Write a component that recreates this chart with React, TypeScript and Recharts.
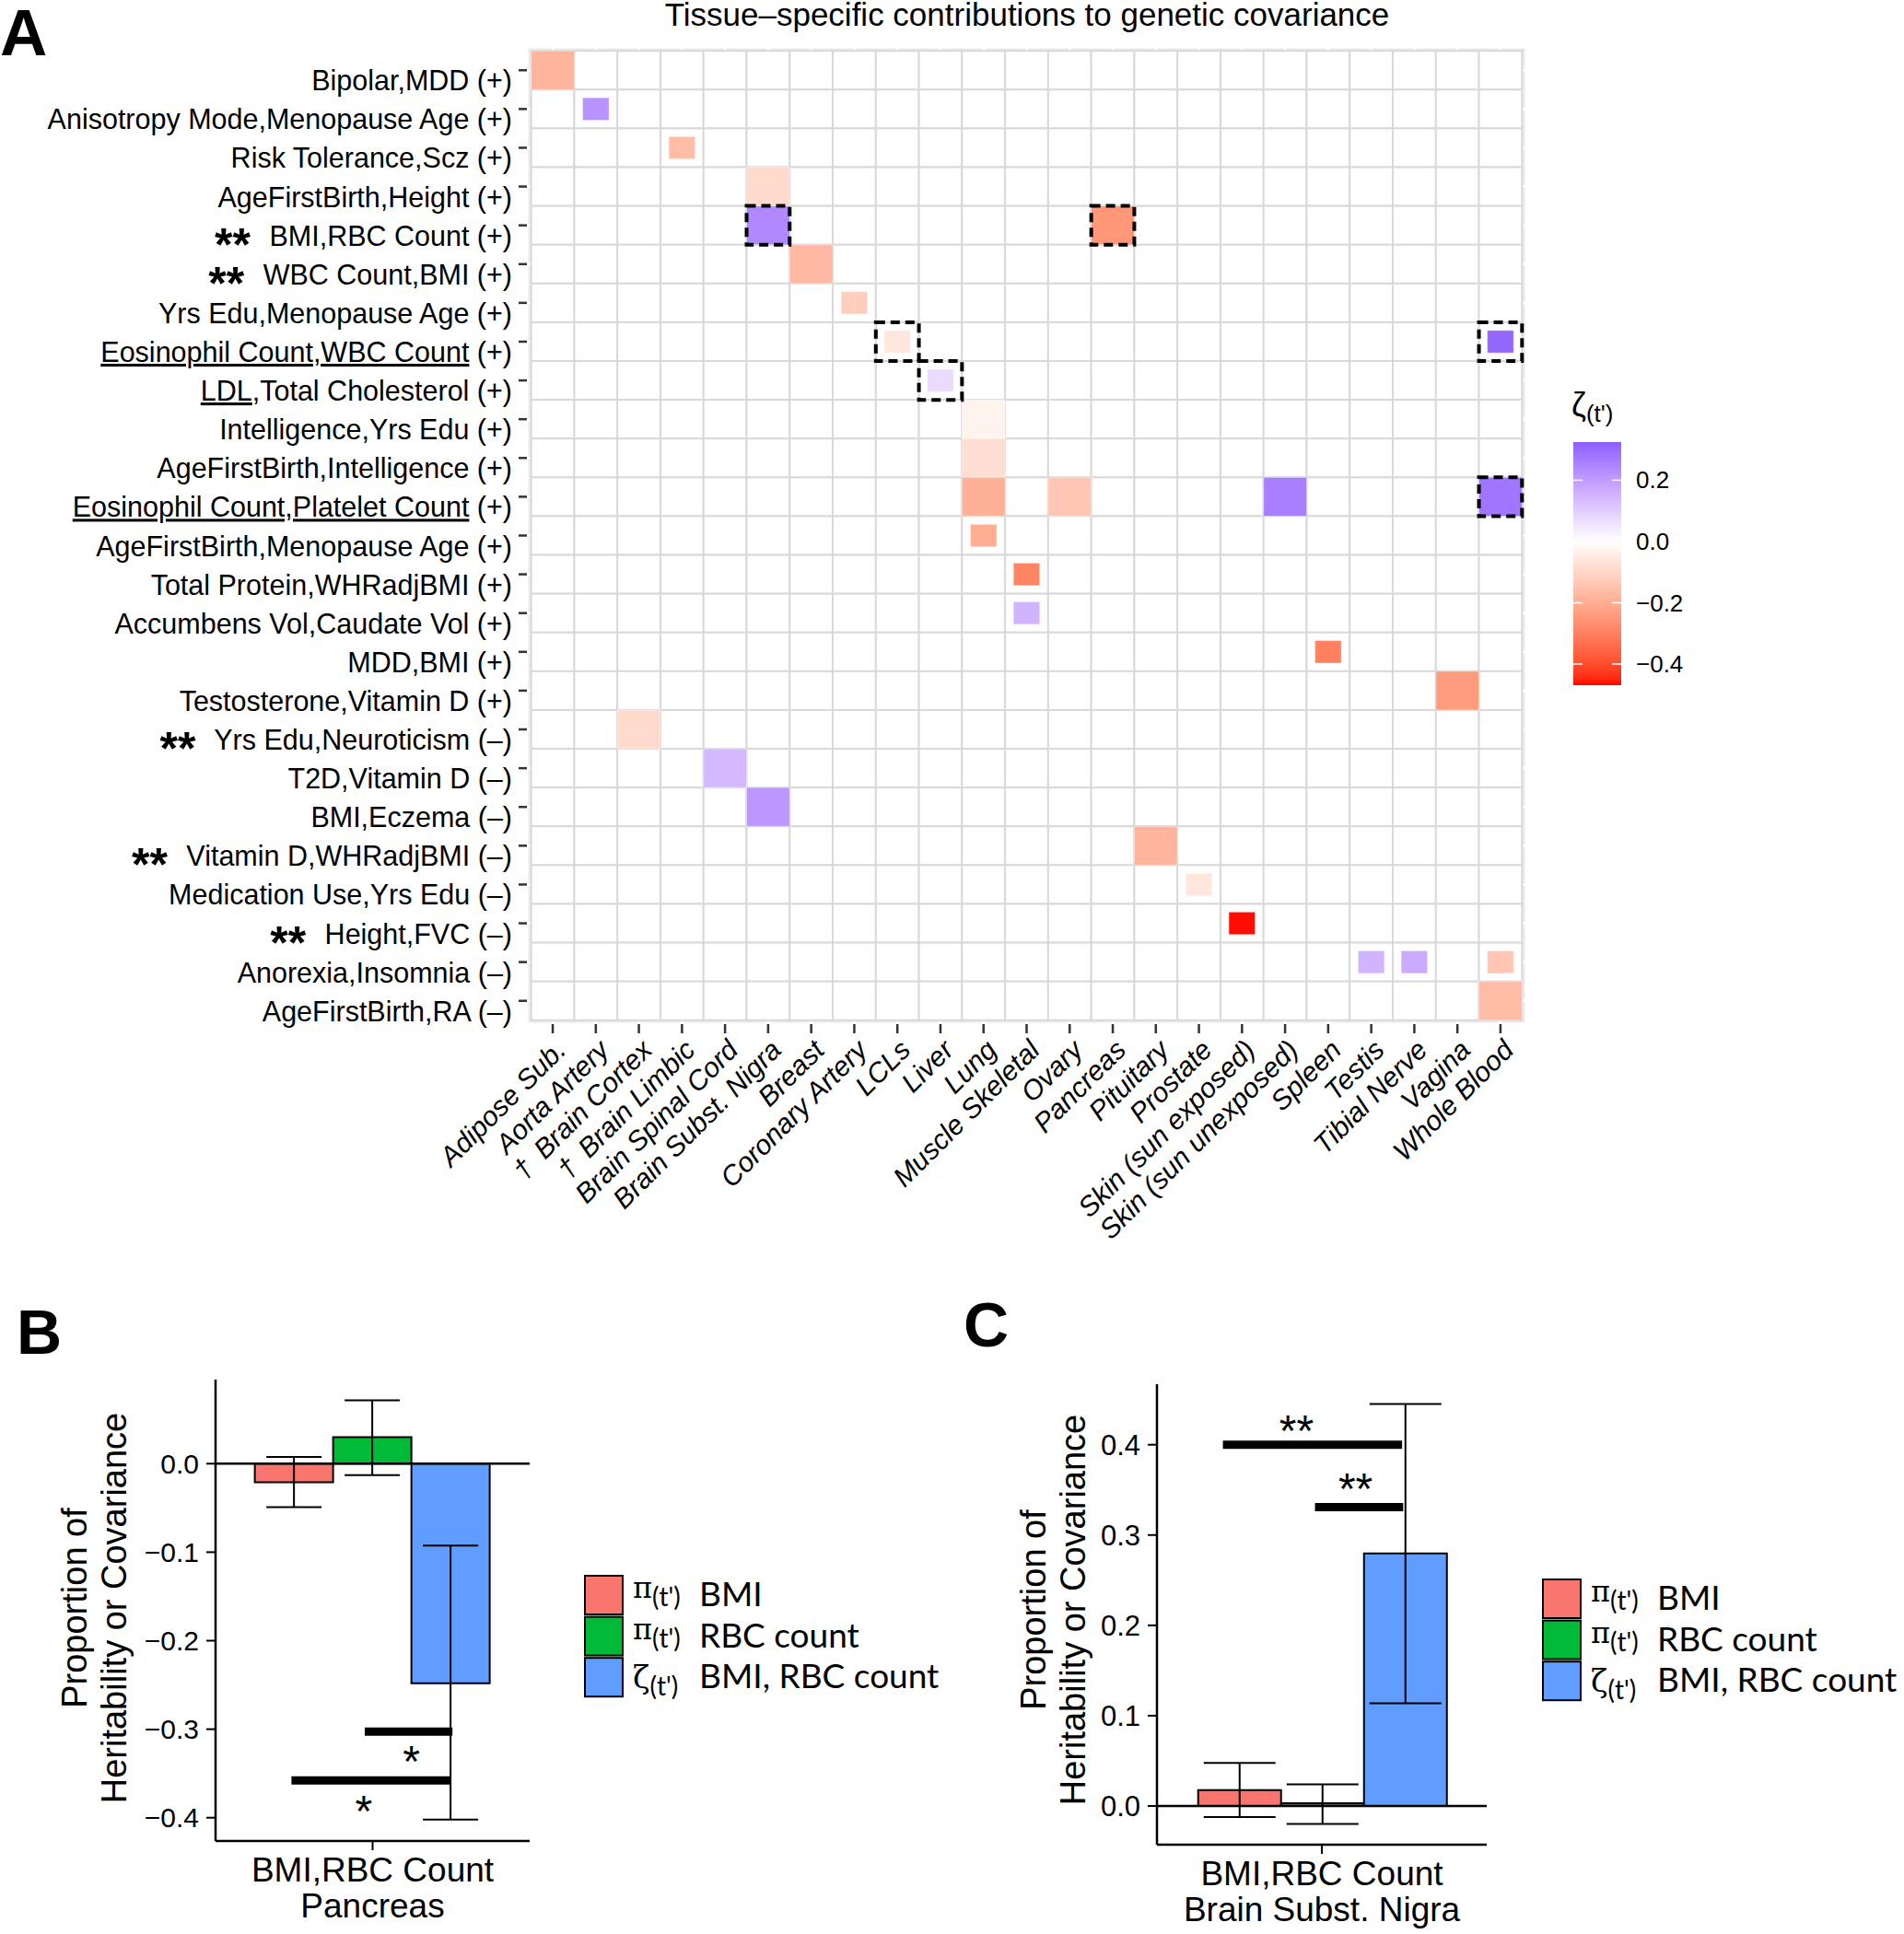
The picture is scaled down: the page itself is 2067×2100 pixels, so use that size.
import React from 'react'
import {
  ScatterChart,
  ComposedChart,
  Scatter,
  Bar,
  ErrorBar,
  XAxis,
  YAxis,
  CartesianGrid,
  ReferenceLine,
} from 'recharts'

const SANS = "'Liberation Sans', Arial, Helvetica, sans-serif"
const LEGEND_FONT = "Lato, 'Open Sans', sans-serif"

// ---- panel A data ----
const TISSUES = [
  'Adipose Sub.', 'Aorta Artery', 'Brain Cortex', 'Brain Limbic', 'Brain Spinal Cord',
  'Brain Subst. Nigra', 'Breast', 'Coronary Artery', 'LCLs', 'Liver', 'Lung',
  'Muscle Skeletal', 'Ovary', 'Pancreas', 'Pituitary', 'Prostate', 'Skin (sun exposed)',
  'Skin (sun unexposed)', 'Spleen', 'Testis', 'Tibial Nerve', 'Vagina', 'Whole Blood',
]
const DAGGER = ['Brain Cortex', 'Brain Limbic']

const PAIRS = [
  'Bipolar,MDD', 'Anisotropy Mode,Menopause Age', 'Risk Tolerance,Scz', 'AgeFirstBirth,Height',
  'BMI,RBC Count', 'WBC Count,BMI', 'Yrs Edu,Menopause Age', 'Eosinophil Count,WBC Count',
  'LDL,Total Cholesterol', 'Intelligence,Yrs Edu', 'AgeFirstBirth,Intelligence',
  'Eosinophil Count,Platelet Count', 'AgeFirstBirth,Menopause Age', 'Total Protein,WHRadjBMI',
  'Accumbens Vol,Caudate Vol', 'MDD,BMI', 'Testosterone,Vitamin D', 'Yrs Edu,Neuroticism',
  'T2D,Vitamin D', 'BMI,Eczema', 'Vitamin D,WHRadjBMI', 'Medication Use,Yrs Edu',
  'Height,FVC', 'Anorexia,Insomnia', 'AgeFirstBirth,RA',
]
const SIGNS = [
  '+', '+', '+', '+', '+', '+', '+', '+', '+', '+', '+', '+', '+', '+', '+', '+', '+',
  '–', '–', '–', '–', '–', '–', '–', '–',
]
const STARRED = [4, 5, 17, 20, 22]
const UNDERLINED: Record<number, string> = {
  7: 'Eosinophil Count,WBC Count',
  8: 'LDL',
  11: 'Eosinophil Count,Platelet Count',
}

// [pair row, tissue, zeta(t'), full size tile]
const TILES: [number, string, number, boolean][] = [
  [0, 'Adipose Sub.', -0.18, true],
  [1, 'Aorta Artery', 0.22, false],
  [2, 'Brain Limbic', -0.16, false],
  [3, 'Brain Subst. Nigra', -0.09, true],
  [4, 'Brain Subst. Nigra', 0.24, true],
  [4, 'Pancreas', -0.25, true],
  [5, 'Breast', -0.17, true],
  [6, 'Coronary Artery', -0.12, false],
  [7, 'LCLs', -0.06, false],
  [7, 'Whole Blood', 0.31, false],
  [8, 'Liver', 0.07, false],
  [9, 'Lung', -0.03, true],
  [10, 'Lung', -0.08, true],
  [11, 'Lung', -0.19, true],
  [11, 'Ovary', -0.14, true],
  [11, 'Skin (sun unexposed)', 0.26, true],
  [11, 'Whole Blood', 0.28, true],
  [12, 'Lung', -0.2, false],
  [13, 'Muscle Skeletal', -0.29, false],
  [14, 'Muscle Skeletal', 0.15, false],
  [15, 'Spleen', -0.3, false],
  [16, 'Vagina', -0.24, true],
  [17, 'Brain Cortex', -0.09, true],
  [18, 'Brain Spinal Cord', 0.14, true],
  [19, 'Brain Subst. Nigra', 0.21, true],
  [20, 'Pituitary', -0.18, true],
  [21, 'Prostate', -0.06, false],
  [22, 'Skin (sun exposed)', -0.465, false],
  [23, 'Testis', 0.15, false],
  [23, 'Tibial Nerve', 0.17, false],
  [23, 'Whole Blood', -0.14, false],
  [24, 'Whole Blood', -0.16, true],
]
const BOXED: [number, string][] = [
  [4, 'Brain Subst. Nigra'], [4, 'Pancreas'], [7, 'LCLs'],
  [7, 'Whole Blood'], [8, 'Liver'], [11, 'Whole Blood'],
]

const ZETA_LIMIT = 0.469
const LEGEND_RANGE = [-0.469, 0.3245]
const LEGEND_TICKS = [0.2, 0, -0.2, -0.4]

// ---- panels B / C data ----
const SERIES = ['bmi', 'rbc', 'cov']
const SERIES_COLORS = ['#F8766D', '#00BA38', '#619CFF']
const SERIES_LABELS = ['BMI', 'RBC count', 'BMI, RBC count']
const SERIES_SYMBOLS = ['π', 'π', 'ζ']

const B_CATEGORY = 'BMI,RBC Count\nPancreas'
const B_VALUES = [-0.021, 0.03, -0.248]
const B_LOW = [-0.049, -0.013, -0.402]
const B_HIGH = [0.0075, 0.0716, -0.0925]
const B_TICKS = [-0.4, -0.3, -0.2, -0.1, 0]
// [x from, x to, y] on a -0.6..0.6 dodge scale
const B_SIG: [number, number, number][] = [[-0.03, 0.305, -0.3027], [-0.31, 0.3, -0.358]]
const B_STARS = [{ x: 0.148, y: -0.3254, t: '*' }, { x: -0.034, y: -0.3814, t: '*' }]

const C_CATEGORY = 'BMI,RBC Count\nBrain Subst. Nigra'
const C_VALUES = [0.0177, 0.003, 0.2797]
const C_LOW = [-0.0123, -0.0198, 0.1136]
const C_HIGH = [0.0478, 0.024, 0.445]
const C_TICKS = [0, 0.1, 0.2, 0.3, 0.4]
const C_SIG: [number, number, number][] = [[-0.36, 0.292, 0.4], [-0.025, 0.296, 0.331]]
const C_STARS = [{ x: -0.092, y: 0.4263, t: '**' }, { x: 0.1226, y: 0.3627, t: '**' }]

// ---- colour scale (Lab interpolation like ggplot's gradient2) ----
const XN = 0.95047
const ZN = 1.08883
const lin = (c: number) => {
  c /= 255
  return c <= 0.04045 ? c / 12.92 : Math.pow((c + 0.055) / 1.055, 2.4)
}
const gam = (c: number) => {
  c = Math.max(0, Math.min(1, c))
  const v = c <= 0.0031308 ? 12.92 * c : 1.055 * Math.pow(c, 1 / 2.4) - 0.055
  return Math.round(Math.max(0, Math.min(1, v)) * 255)
}
function hexToLab(hex: string) {
  const n = parseInt(hex.slice(1), 16)
  const r = lin(n >> 16), g = lin((n >> 8) & 255), b = lin(n & 255)
  const X = (0.4124 * r + 0.3576 * g + 0.1805 * b) / XN
  const Y = 0.2126 * r + 0.7152 * g + 0.0722 * b
  const Z = (0.0193 * r + 0.1192 * g + 0.9505 * b) / ZN
  const f = (t: number) => (t > 0.008856 ? Math.cbrt(t) : 7.787 * t + 16 / 116)
  const fx = f(X), fy = f(Y), fz = f(Z)
  return [116 * fy - 16, 500 * (fx - fy), 200 * (fy - fz)]
}
function labToHex([L, a, b]: number[]) {
  const fy = (L + 16) / 116
  const fx = fy + a / 500
  const fz = fy - b / 200
  const fi = (t: number) => (t ** 3 > 0.008856 ? t ** 3 : (t - 16 / 116) / 7.787)
  const X = XN * fi(fx), Y = fi(fy), Z = ZN * fi(fz)
  const r = 3.2406 * X - 1.5372 * Y - 0.4986 * Z
  const g = -0.9689 * X + 1.8758 * Y + 0.0415 * Z
  const bb = 0.0557 * X - 0.204 * Y + 1.057 * Z
  return '#' + [r, g, bb].map((c) => gam(c).toString(16).padStart(2, '0')).join('')
}
const LAB_WHITE = hexToLab('#FFFFFF')
const LAB_RED = hexToLab('#FF0000')
const LAB_BLUE = hexToLab('#0000FF')
function zetaColor(v: number) {
  const t = Math.min(1, Math.abs(v) / ZETA_LIMIT)
  const end = v < 0 ? LAB_RED : LAB_BLUE
  return labToHex(LAB_WHITE.map((w, i) => w + (end[i] - w) * t))
}

const fmt = (v: number) => v.toFixed(1).replace('-', '−')

// ---- heatmap layout ----
const HM_LEFT = 572
const HM_TOP = 51
const HM_PW = 1085
const HM_PH = 1061
const HM_W = 1800
const HM_H = 1420
const CELL_W = HM_PW / 23.2
const CELL_H = HM_PH / 25.2

const gridCells = PAIRS.flatMap((_, r) => TISSUES.map((__, c) => ({ x: c, y: r })))
const tileData = TILES.map(([r, t, v, full]) => ({ x: TISSUES.indexOf(t), y: r, v, full }))
const boxData = BOXED.map(([r, t]) => ({ x: TISSUES.indexOf(t), y: r }))

const CellShape = (p: any) => (
  <rect x={p.cx - CELL_W / 2} y={p.cy - CELL_H / 2} width={CELL_W} height={CELL_H}
    fill="#fff" stroke="#D9D9D9" strokeWidth={2} />
)
const TileShape = (p: any) => {
  const sw = p.payload.full ? 1 : 0.61
  const sh = p.payload.full ? 1 : 0.58
  const w = CELL_W * sw, h = CELL_H * sh
  return (
    <rect x={p.cx - w / 2} y={p.cy - h / 2} width={w} height={h}
      fill={zetaColor(p.payload.v)} stroke="#ffffff" strokeOpacity={0.4} strokeWidth={1} />
  )
}
const BoxShape = (p: any) => (
  <rect x={p.cx - CELL_W / 2} y={p.cy - CELL_H / 2} width={CELL_W} height={CELL_H}
    fill="none" stroke="#000" strokeWidth={4} strokeDasharray="10 6" />
)

function PairTick({ x, y, payload }: any) {
  const i = payload.value as number
  const name = PAIRS[i]
  const ul = UNDERLINED[i]
  const starred = STARRED.includes(i)
  const rest = ul ? name.slice(ul.length) : name
  return (
    <text x={x} y={y + 22} textAnchor="end" fontSize={30.5} fontFamily={SANS} fill="#000">
      {starred && <tspan fontSize={50} fontWeight="bold" dy={16}>**</tspan>}
      {ul && (
        <tspan style={{ textDecoration: 'underline' }}>{ul}</tspan>
      )}
      <tspan dy={starred ? -16 : 0} dx={starred ? 12 : 0}>{`${starred ? ' ' : ''}${rest} (${SIGNS[i]})`}</tspan>
    </text>
  )
}

function TissueTick({ x, y, payload }: any) {
  const name = TISSUES[payload.value]
  const label = DAGGER.includes(name) ? `†\u2002${name}` : name
  const ax = x + 16
  const ay = y + 20
  return (
    <text x={ax} y={ay} transform={`rotate(-45 ${ax} ${ay})`} textAnchor="end"
      fontStyle="italic" fontSize={30} fontFamily={SANS} fill="#000">
      {label}
    </text>
  )
}

function Heatmap() {
  return (
    <ScatterChart width={HM_W} height={HM_H}
      margin={{ top: HM_TOP, right: HM_W - HM_LEFT - HM_PW, bottom: HM_H - HM_TOP - HM_PH - 300, left: 0 }}>
      <CartesianGrid fill="#EBEBEB" fillOpacity={1} stroke="#fff" strokeWidth={3} />
      <XAxis type="number" dataKey="x" domain={[-0.6, 22.6]} allowDataOverflow
        ticks={TISSUES.map((_, i) => i)} interval={0} height={300}
        axisLine={false} tickLine={{ stroke: '#333', strokeWidth: 2.5 }} tickSize={10} tickMargin={0}
        tick={<TissueTick />} />
      <YAxis type="number" dataKey="y" domain={[-0.6, 24.6]} allowDataOverflow reversed
        ticks={PAIRS.map((_, i) => i)} interval={0} width={HM_LEFT}
        axisLine={false} tickLine={{ stroke: '#333', strokeWidth: 2.5 }} tickSize={9} tickMargin={7}
        tick={<PairTick />} />
      <Scatter data={gridCells} shape={CellShape} isAnimationActive={false} />
      <Scatter data={tileData} shape={TileShape} isAnimationActive={false} />
      <Scatter data={boxData} shape={BoxShape} isAnimationActive={false} />
    </ScatterChart>
  )
}

// ---- bar panels ----
function buildRow(name: string, vals: number[], low: number[], high: number[]) {
  const row: Record<string, any> = { name }
  SERIES.forEach((k, i) => {
    row[k] = vals[i]
    row[k + 'Err'] = [vals[i] - low[i], high[i] - vals[i]]
  })
  return [row]
}

function CategoryTick({ x, y, payload }: any) {
  const [a, b] = String(payload.value).split('\n')
  return (
    <text textAnchor="middle" fontSize={37} fontFamily={SANS} fill="#000">
      <tspan x={x} y={y + 34}>{a}</tspan>
      <tspan x={x} y={y + 73}>{b}</tspan>
    </text>
  )
}

const StarShape = (p: any) => {
  const fs = p.payload.t.length > 1 ? 48 : 48
  return (
    <text x={p.cx} y={p.cy + fs * 0.57} textAnchor="middle" fontSize={fs} fontFamily={SANS} fill="#000">
      {p.payload.t}
    </text>
  )
}

type PanelProps = {
  width: number
  height: number
  top: number
  right: number
  bottom: number
  yWidth: number
  xHeight: number
  data: any[]
  domain: [number, number]
  ticks: number[]
  sig: [number, number, number][]
  stars: { x: number; y: number; t: string }[]
  cap: number
  tickFont: number
}

function ContributionPanel(p: PanelProps) {
  return (
    <ComposedChart width={p.width} height={p.height} data={p.data}
      margin={{ top: p.top, right: p.right, bottom: p.bottom, left: 0 }}
      barCategoryGap="12.5%" barGap={0}>
      <XAxis xAxisId="cat" dataKey="name" height={p.xHeight} interval={0}
        axisLine={{ stroke: '#000', strokeWidth: 2.5 }} tickLine={{ stroke: '#000', strokeWidth: 2 }}
        tickSize={10} tickMargin={0} tick={<CategoryTick />} />
      <XAxis xAxisId="num" type="number" dataKey="x" domain={[-0.6, 0.6]} allowDataOverflow hide />
      <YAxis type="number" domain={p.domain} allowDataOverflow ticks={p.ticks} interval={0}
        width={p.yWidth} tickFormatter={fmt}
        axisLine={{ stroke: '#000', strokeWidth: 2.5 }} tickLine={{ stroke: '#000', strokeWidth: 2 }}
        tickSize={10} tickMargin={8}
        tick={{ fill: '#000', fontSize: p.tickFont, fontFamily: SANS }} />
      {SERIES.map((k, i) => (
        <Bar key={k} xAxisId="cat" dataKey={k} fill={SERIES_COLORS[i]} stroke="#000" strokeWidth={2}
          isAnimationActive={false}>
          <ErrorBar dataKey={k + 'Err'} width={p.cap} stroke="#000" strokeWidth={2} direction="y" />
        </Bar>
      ))}
      <ReferenceLine xAxisId="cat" y={0} stroke="#000" strokeWidth={2.5} />
      {p.sig.map(([x1, x2, y], i) => (
        <ReferenceLine key={i} xAxisId="num" segment={[{ x: x1, y }, { x: x2, y }]}
          stroke="#000" strokeWidth={9} />
      ))}
      <Scatter xAxisId="num" data={p.stars} dataKey="y" shape={StarShape} isAnimationActive={false} />
    </ComposedChart>
  )
}

function BarLegend({ x, y }: { x: number; y: number }) {
  return (
    <g>
      {SERIES.map((k, i) => {
        const top = y + i * 44.6
        const isZeta = SERIES_SYMBOLS[i] === 'ζ'
        return (
          <g key={k}>
            <rect x={x} y={top} width={41} height={42} fill={SERIES_COLORS[i]} stroke="#000" strokeWidth={2} />
            <text x={x + 52} y={top + 33} fontSize={37} fontFamily={LEGEND_FONT} fill="#000">
              <tspan fontFamily="'DejaVu Serif', 'Liberation Serif', serif" fontSize={isZeta ? 34 : 32}
                dy={isZeta ? 0 : -9}>{SERIES_SYMBOLS[i]}</tspan>
              <tspan fontSize={28} dy={isZeta ? 8 : 9}>(t')</tspan>
              <tspan x={x + 124} dy={isZeta ? -8 : 0}>{SERIES_LABELS[i]}</tspan>
            </text>
          </g>
        )
      })}
    </g>
  )
}

function AxisTitle({ x1, x2, cy }: { x1: number; x2: number; cy: number }) {
  return (
    <g fontSize={38} fontFamily={SANS} fill="#000" textAnchor="middle">
      <text x={x1} y={cy} transform={`rotate(-90 ${x1} ${cy})`}>Proportion of</text>
      <text x={x2} y={cy} transform={`rotate(-90 ${x2} ${cy})`}>Heritability or Covariance</text>
    </g>
  )
}

function Overlay() {
  const [lo, hi] = LEGEND_RANGE
  const barX = 1708, barY = 480, barW = 52, barH = 264
  const yOf = (v: number) => barY + ((hi - v) / (hi - lo)) * barH
  const stops = Array.from({ length: 41 }, (_, k) => {
    const v = hi - ((hi - lo) * k) / 40
    return <stop key={k} offset={k / 40} stopColor={zetaColor(v)} />
  })
  return (
    <svg width={2067} height={2100} style={{ position: 'absolute', left: 0, top: 0, pointerEvents: 'none' }}>
      <defs>
        <linearGradient id="zetaGrad" x1="0" y1="0" x2="0" y2="1">{stops}</linearGradient>
      </defs>
      <text x={0} y={60} fontSize={71} fontWeight="bold" fontFamily={SANS}>A</text>
      <text x={18} y={1470} fontSize={68} fontWeight="bold" fontFamily={SANS}>B</text>
      <text x={1046} y={1462} fontSize={68} fontWeight="bold" fontFamily={SANS}>C</text>
      <text x={1115} y={28} textAnchor="middle" fontSize={35} fontFamily={SANS}>
        Tissue–specific contributions to genetic covariance
      </text>

      <text x={1706} y={452} fontSize={36} fontFamily={SANS}>
        ζ<tspan fontSize={26} dy={6}>(t')</tspan>
      </text>
      <rect x={barX} y={barY} width={barW} height={barH} fill="url(#zetaGrad)" />
      {LEGEND_TICKS.map((v) => (
        <g key={v}>
          <line x1={barX} x2={barX + 10} y1={yOf(v)} y2={yOf(v)} stroke="#fff" strokeWidth={1.5} />
          <line x1={barX + barW - 10} x2={barX + barW} y1={yOf(v)} y2={yOf(v)} stroke="#fff" strokeWidth={1.5} />
          <text x={1776} y={yOf(v) + 9} fontSize={26} fontFamily={SANS}>{fmt(v)}</text>
        </g>
      ))}

      <AxisTitle x1={94} x2={137} cy={1746} />
      <AxisTitle x1={1135} x2={1178} cy={1748} />
      <BarLegend x={635} y={1711} />
      <BarLegend x={1675} y={1715} />
    </svg>
  )
}

export default function App() {
  return (
    <div style={{ position: 'absolute', left: 0, top: 0, width: 2067, height: 2100, background: '#fff' }}>
      <div style={{ position: 'absolute', left: 0, top: 0 }}>
        <Heatmap />
      </div>
      <div style={{ position: 'absolute', left: 0, top: 1480 }}>
        <ContributionPanel width={600} height={620} top={18} right={25} bottom={20} yWidth={234} xHeight={81}
          data={buildRow(B_CATEGORY, B_VALUES, B_LOW, B_HIGH)} domain={[-0.4263, 0.095]} ticks={B_TICKS}
          sig={B_SIG} stars={B_STARS} cap={30} tickFont={30} />
      </div>
      <div style={{ position: 'absolute', left: 1000, top: 1480 }}>
        <ContributionPanel width={640} height={620} top={23} right={26} bottom={20} yWidth={256} xHeight={77}
          data={buildRow(C_CATEGORY, C_VALUES, C_LOW, C_HIGH)} domain={[-0.0428, 0.467]} ticks={C_TICKS}
          sig={C_SIG} stars={C_STARS} cap={39} tickFont={31} />
      </div>
      <Overlay />
    </div>
  )
}
